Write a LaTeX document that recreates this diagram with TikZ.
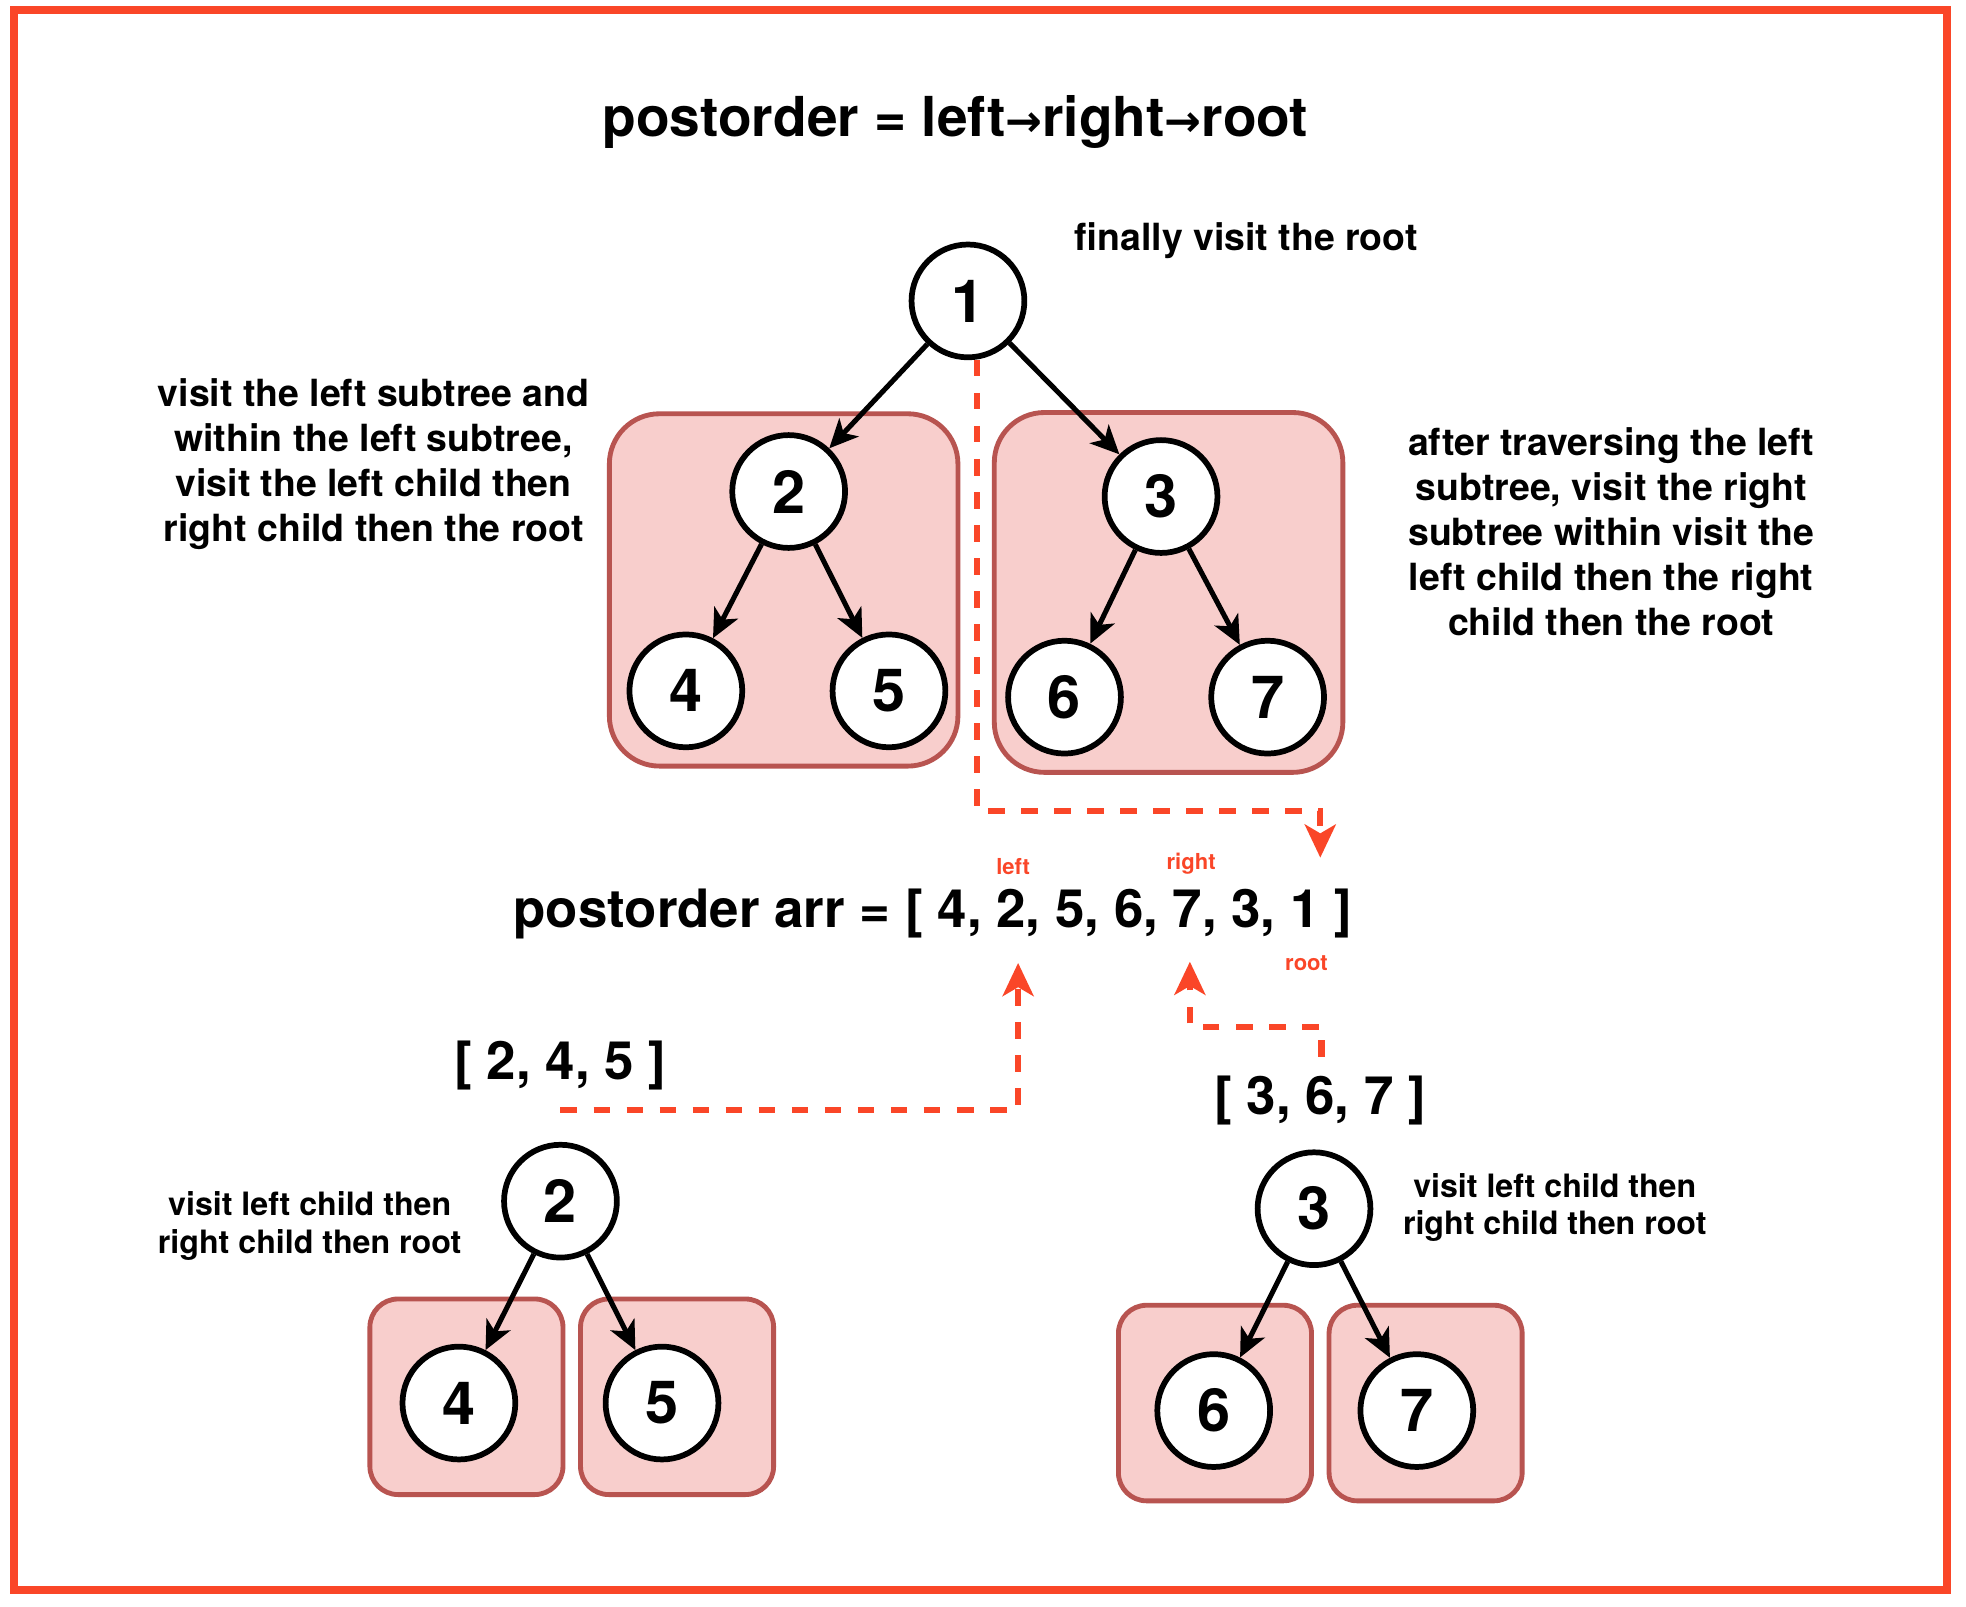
\documentclass[tikz,border=0pt]{standalone}
\usepackage{fontspec}
\setmainfont{TeX Gyre Heros}
\newfontfamily\pfeilfont{DejaVu Sans}
\usetikzlibrary{arrows.meta}
\definecolor{rot}{RGB}{250,70,40}
\definecolor{kastenrand}{HTML}{B85450}
\definecolor{kastenfill}{HTML}{F8CECC}

\begin{document}
\begin{tikzpicture}[x=0.02cm, y=-0.02cm,
		knoten/.style={circle, draw, line width=2.6pt, fill=white, minimum size=1.8cm, inner sep=0pt, font=\fontsize{27}{27}\selectfont\bfseries},
		kasten/.style={draw=kastenrand, fill=kastenfill, line width=2.2pt},
		kante/.style={-{Stealth[length=13pt, width=12pt, inset=3.5pt]}, line width=2.3pt},
		weg/.style={-{Stealth[length=15pt, width=14pt, inset=4pt]}, rot, line width=2.8pt, dash pattern=on 7.5pt off 7.5pt},
		notiz/.style={align=center, font=\fontsize{17}{20.5}\selectfont\bfseries},
		klein/.style={align=center, font=\fontsize{14.6}{17.1}\selectfont\bfseries},
		gross/.style={anchor=base, font=\fontsize{24}{24}\selectfont\bfseries}]
		
		%Rahmen
		\useasboundingbox (0,0) rectangle (1568,1281);
		\fill[white] (0,0) rectangle (1568,1281);
		\draw[rot, line width=3.8pt] (11,8) rectangle (1553,1268);
		
		%Ueberschrift
		\node[gross, font=\fontsize{25}{25}\selectfont\bfseries] (titel) at (762,109) {postorder = left{\pfeilfont\bfseries\fontsize{20}{20}\selectfont →}right{\pfeilfont\bfseries\fontsize{20}{20}\selectfont →}root};
		
		%Baum oben
		\draw[kasten, rounded corners=0.8cm] (486,330) rectangle (764,611);
		\draw[kasten, rounded corners=0.8cm] (793,329) rectangle (1071,616);
		
		\node[knoten] (n1) at (772,240) {1};
		\node[knoten] (n2) at (629,392) {2};
		\node[knoten] (n3) at (926,396) {3};
		\node[knoten] (n4) at (547,551) {4};
		\node[knoten] (n5) at (709,551) {5};
		\node[knoten] (n6) at (849,556) {6};
		\node[knoten] (n7) at (1011,556) {7};
		
		\draw[kante] (n1) -- (n2);
		\draw[kante] (n1) -- (n3);
		\draw[kante] (n2) -- (n4);
		\draw[kante] (n2) -- (n5);
		\draw[kante] (n3) -- (n6);
		\draw[kante] (n3) -- (n7);
		
		\node[notiz] (wurzel) at (994,192) {finally visit the root};
		\node[notiz] (links) at (298,370) {visit the left subtree and\\within the left subtree,\\visit the left child then\\right child then the root};
		\node[notiz] (rechts) at (1285,424) {after traversing the left\\subtree, visit the right\\subtree within visit the\\left child then the right\\child then the root};
		
		%Ergebnis
		\node[gross] (arr) at (744,740) {postorder arr = [ 4, 2, 5, 6, 7, 3, 1 ]};
		\node[rot, font=\fontsize{10}{10}\selectfont\bfseries] (lleft) at (808,691) {left};
		\node[rot, font=\fontsize{10}{10}\selectfont\bfseries] (lright) at (950,689) {right};
		\node[rot, font=\fontsize{10}{10}\selectfont\bfseries] (lroot) at (1042,768) {root};
		
		\node[gross] (liste1) at (447,861) {[ 2, 4, 5 ]};
		\node[gross] (liste2) at (1053,889) {[ 3, 6, 7 ]};
		
		%Gestrichelte Wege
		\coordinate (w1a) at (779,287);
		\coordinate (w1k) at (1053,647);
		\coordinate (w1b) at (1053,684);
		\draw[weg] (w1a) |- (w1k) -- (w1b);
		
		\coordinate (w2a) at (447,885);
		\coordinate (w2b) at (812,768);
		\draw[weg] (w2a) -| (w2b);
		
		\coordinate (w3a) at (1054,843);
		\coordinate (w3k) at (949,819);
		\coordinate (w3b) at (949,767);
		\draw[weg] (w3a) |- (w3k) -- (w3b);
		
		%Teilbaum links unten
		\draw[kasten, rounded corners=0.45cm] (295,1036) rectangle (449,1192);
		\draw[kasten, rounded corners=0.45cm] (463,1036) rectangle (617,1192);
		\node[knoten] (u2) at (447,958) {2};
		\node[knoten] (u4) at (366,1119) {4};
		\node[knoten] (u5) at (528,1119) {5};
		\draw[kante] (u2) -- (u4);
		\draw[kante] (u2) -- (u5);
		\node[klein] (ulinks) at (247,978) {visit left child then\\right child then root};
		
		%Teilbaum rechts unten
		\draw[kasten, rounded corners=0.45cm] (892,1041) rectangle (1046,1197);
		\draw[kasten, rounded corners=0.45cm] (1060,1041) rectangle (1214,1197);
		\node[knoten] (u3) at (1048,964) {3};
		\node[knoten] (u6) at (968,1125) {6};
		\node[knoten] (u7) at (1130,1125) {7};
		\draw[kante] (u3) -- (u6);
		\draw[kante] (u3) -- (u7);
		\node[klein] (urechts) at (1240,963) {visit left child then\\right child then root};
		
	\end{tikzpicture}
\end{document}
